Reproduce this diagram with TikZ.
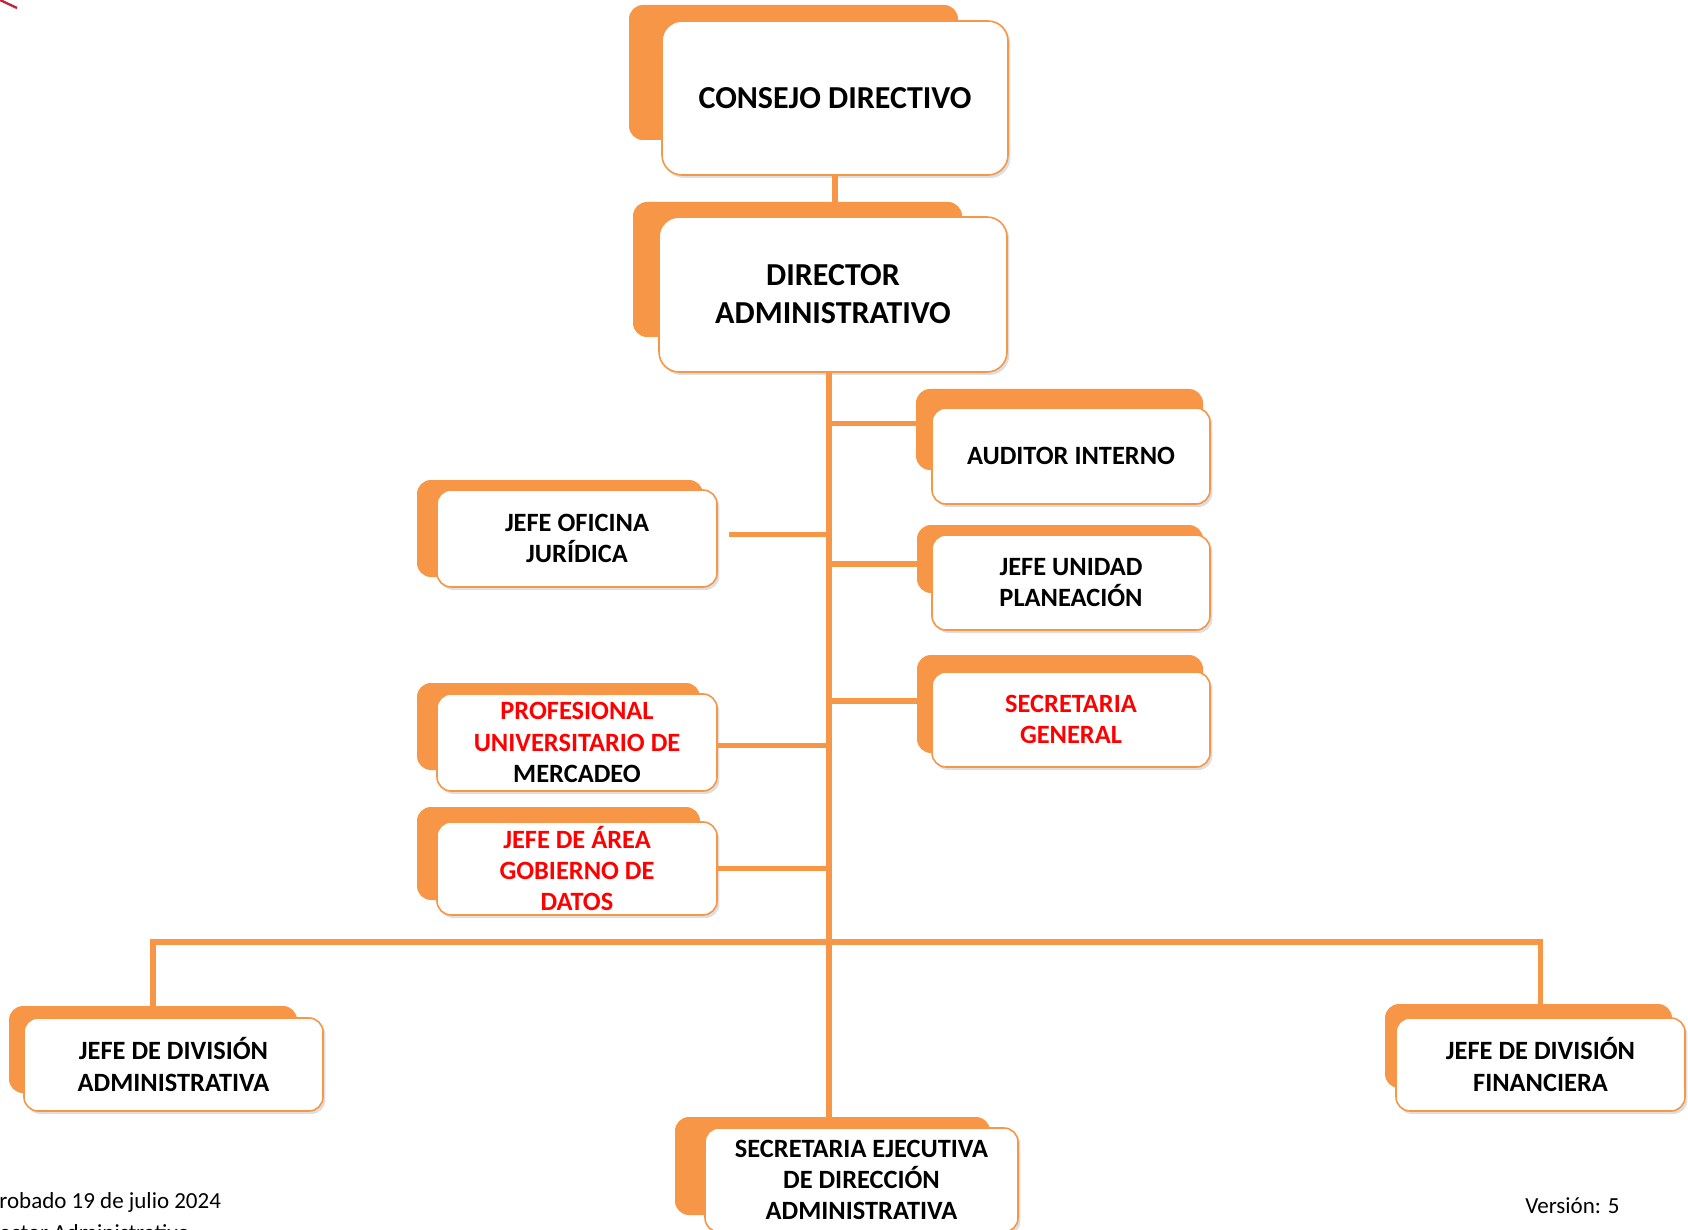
\documentclass[tikz,border=0pt]{standalone}
\usepackage{fontspec}
\setmainfont{Carlito}
\usetikzlibrary{shadows}
\definecolor{naranja}{HTML}{F79646}
\definecolor{rojo}{HTML}{FF0000}
\definecolor{logorojo}{HTML}{C0273A}

\begin{document}
\begin{tikzpicture}[x=0.5pt, y=-0.5pt,
	fondo/.style={fill=naranja, rounded corners=7pt, inner sep=0pt},
	cargo/.style={draw=naranja, line width=0.8pt, fill=white, rounded corners=7pt, align=center, inner sep=0pt,
		font=\bfseries\fontsize{13.2}{15.7}\selectfont,
		drop shadow={opacity=0.25, shadow xshift=1.2pt, shadow yshift=-1.5pt}},
	grande/.style={cargo, rounded corners=10pt, font=\bfseries\fontsize{16}{19}\selectfont},
	linea/.style={draw=naranja, line width=2.6pt},
	pie/.style={inner sep=0pt, font=\fontsize{11.5}{14}\selectfont}]
	\useasboundingbox (0,0) rectangle (1688,1230);

	\draw[draw=logorojo, line width=1.2pt] (0,0) -- (17,8);

	\node[fondo, minimum width=164.5pt, minimum height=67.5pt] (consejo-f) at (793.5,72.5) {};
	\node[grande, minimum width=173pt, minimum height=77pt] (consejo) at (835,98) {CONSEJO DIRECTIVO};

	\node[fondo, minimum width=164.5pt, minimum height=67.5pt] (director-f) at (797.5,269.5) {};
	\node[grande, minimum width=174pt, minimum height=77.5pt] (director) at (833,294.5) {DIRECTOR\\ADMINISTRATIVO};

	\node[fondo, minimum width=143.5pt, minimum height=40.5pt] (auditor-f) at (1059.5,429.5) {};
	\node[cargo, minimum width=139pt, minimum height=48pt] (auditor) at (1071,456) {AUDITOR INTERNO};

	\node[fondo, minimum width=143pt, minimum height=48.5pt] (juridica-f) at (560,528.5) {};
	\node[cargo, minimum width=140pt, minimum height=48.5pt] (juridica) at (577,538.5) {JEFE OFICINA\\JURÍDICA};

	\node[fondo, minimum width=143pt, minimum height=34pt] (planeacion-f) at (1060,559) {};
	\node[cargo, minimum width=139pt, minimum height=47.5pt] (planeacion) at (1071,582.5) {JEFE UNIDAD\\PLANEACIÓN};

	\node[fondo, minimum width=143pt, minimum height=49pt] (secgeneral-f) at (1060,704) {};
	\node[cargo, text=rojo, minimum width=139pt, minimum height=47.5pt] (secgeneral) at (1071,719.5) {SECRETARIA\\GENERAL};

	\node[fondo, minimum width=141.5pt, minimum height=43.5pt] (mercadeo-f) at (558.5,726.5) {};
	\node[cargo, minimum width=140pt, minimum height=48.5pt] (mercadeo) at (577,742.5)
		{{\color{rojo}PROFESIONAL}\\{\color{rojo}UNIVERSITARIO DE}\\MERCADEO};

	\node[fondo, minimum width=141.5pt, minimum height=46.5pt] (datos-f) at (558.5,853.5) {};
	\node[cargo, text=rojo, minimum width=140pt, minimum height=46.5pt] (datos) at (577,868.5) {JEFE DE ÁREA\\GOBIERNO DE\\DATOS};

	\node[fondo, minimum width=144pt, minimum height=43.5pt] (divadmin-f) at (153,1049.5) {};
	\node[cargo, minimum width=149.5pt, minimum height=46.5pt] (divadmin) at (173.5,1064.5) {JEFE DE DIVISIÓN\\ADMINISTRATIVA};

	\node[fondo, minimum width=143.5pt, minimum height=42pt] (divfin-f) at (1528.5,1046) {};
	\node[cargo, minimum width=144.5pt, minimum height=46.5pt] (divfin) at (1540.5,1064.5) {JEFE DE DIVISIÓN\\FINANCIERA};

	\node[fondo, minimum width=157.5pt, minimum height=49pt] (secejec-f) at (832.5,1166) {};
	\node[cargo, minimum width=156.5pt, minimum height=52pt] (secejec) at (861.5,1180) {SECRETARIA EJECUTIVA\\DE DIRECCIÓN\\ADMINISTRATIVA};

	\coordinate (tronco) at ([xshift=-2pt]director.south);
	\coordinate (barra) at (829,942);

	\draw[linea] (consejo.south) -- (consejo.south |- director-f.north);
	\draw[linea] (tronco) -- (tronco |- secejec-f.north);
	\draw[linea] ([yshift=3pt]auditor-f.west) -- ([yshift=3pt]auditor-f.west -| tronco);
	\draw[linea, shorten <=5.5pt] ([yshift=2pt]juridica.east) -- ([yshift=2pt]juridica.east -| tronco);
	\draw[linea] ([yshift=-2.5pt]planeacion-f.west) -- ([yshift=-2.5pt]planeacion-f.west -| tronco);
	\draw[linea] ([yshift=1.5pt]secgeneral-f.west) -- ([yshift=1.5pt]secgeneral-f.west -| tronco);
	\draw[linea] ([yshift=-1.5pt]mercadeo.east) -- ([yshift=-1.5pt]mercadeo.east -| tronco);
	\draw[linea] (datos.east) -- (datos.east -| tronco);
	\draw[linea] (divadmin-f.north) |- (barra) -| (divfin.north |- divfin-f.north);

	\node[pie, anchor=base west] (aprobado) at (-1,1208) {robado 19 de julio 2024};
	\node[pie, anchor=base west] (firma) at (-1,1240) {ector Administrativo};
	\node[pie, anchor=base west] (version) at (1525,1213) {Versión: 5};
\end{tikzpicture}
\end{document}
